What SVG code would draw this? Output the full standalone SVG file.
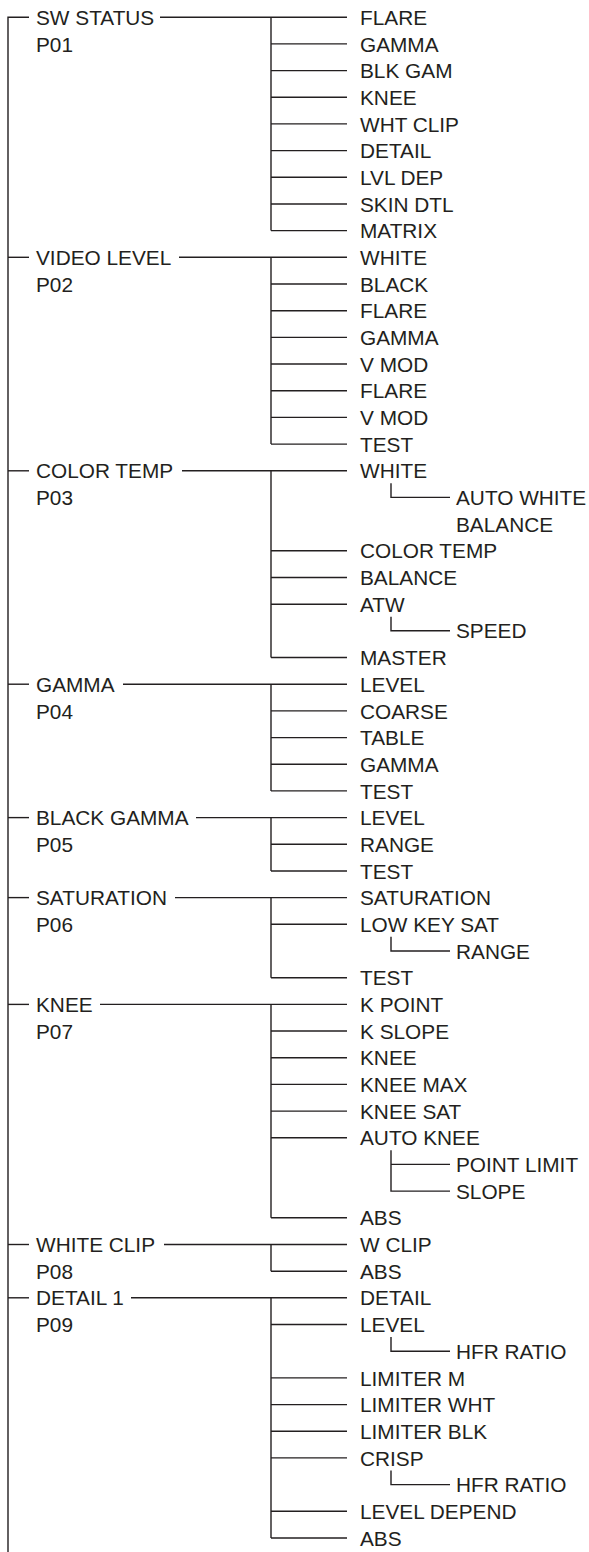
<svg xmlns="http://www.w3.org/2000/svg" width="589" height="1552" viewBox="0 0 589 1552">
<style>
.t{font-family:"Liberation Sans",Arial,Helvetica,sans-serif;font-size:20.8px;fill:#231f20}
.c line,.c path{stroke:#231f20;stroke-width:1.4;fill:none}
</style>
<rect width="589" height="1552" fill="#ffffff"/>
<g id="connectors" class="c">
<path d="M29 17.2H8V1552"/>
<!-- P01 -->
<line x1="160" y1="17.2" x2="347" y2="17.2"/>
<line x1="271" y1="17.2" x2="271" y2="230.6"/>
<line x1="271" y1="43.9" x2="347" y2="43.9"/>
<line x1="271" y1="70.6" x2="347" y2="70.6"/>
<line x1="271" y1="97.2" x2="347" y2="97.2"/>
<line x1="271" y1="123.9" x2="347" y2="123.9"/>
<line x1="271" y1="150.6" x2="347" y2="150.6"/>
<line x1="271" y1="177.3" x2="347" y2="177.3"/>
<line x1="271" y1="204" x2="347" y2="204"/>
<path d="M271 230.6H347"/>
<!-- P02 -->
<line x1="8" y1="257.3" x2="29" y2="257.3"/>
<line x1="179" y1="257.3" x2="347" y2="257.3"/>
<line x1="271" y1="257.3" x2="271" y2="444.1"/>
<line x1="271" y1="284" x2="347" y2="284"/>
<line x1="271" y1="310.7" x2="347" y2="310.7"/>
<line x1="271" y1="337.4" x2="347" y2="337.4"/>
<line x1="271" y1="364" x2="347" y2="364"/>
<line x1="271" y1="390.7" x2="347" y2="390.7"/>
<line x1="271" y1="417.4" x2="347" y2="417.4"/>
<line x1="271" y1="444.1" x2="347" y2="444.1"/>
<!-- P03 -->
<line x1="8" y1="470.8" x2="29" y2="470.8"/>
<line x1="182" y1="470.8" x2="347" y2="470.8"/>
<line x1="271" y1="470.8" x2="271" y2="657.5"/>
<path d="M391 483.3V497.4H450"/>
<line x1="271" y1="550.8" x2="347" y2="550.8"/>
<line x1="271" y1="577.5" x2="347" y2="577.5"/>
<line x1="271" y1="604.2" x2="347" y2="604.2"/>
<path d="M391 616.7V630.8H450"/>
<line x1="271" y1="657.5" x2="347" y2="657.5"/>
<!-- P04 -->
<line x1="8" y1="684.2" x2="29" y2="684.2"/>
<line x1="123" y1="684.2" x2="347" y2="684.2"/>
<line x1="271" y1="684.2" x2="271" y2="790.9"/>
<line x1="271" y1="710.9" x2="347" y2="710.9"/>
<line x1="271" y1="737.6" x2="347" y2="737.6"/>
<line x1="271" y1="764.2" x2="347" y2="764.2"/>
<line x1="271" y1="790.9" x2="347" y2="790.9"/>
<!-- P05 -->
<line x1="8" y1="817.6" x2="29" y2="817.6"/>
<line x1="196" y1="817.6" x2="347" y2="817.6"/>
<line x1="271" y1="817.6" x2="271" y2="871"/>
<line x1="271" y1="844.3" x2="347" y2="844.3"/>
<line x1="271" y1="871" x2="347" y2="871"/>
<!-- P06 -->
<line x1="8" y1="897.6" x2="29" y2="897.6"/>
<line x1="175" y1="897.6" x2="347" y2="897.6"/>
<line x1="271" y1="897.6" x2="271" y2="977.7"/>
<line x1="271" y1="924.3" x2="347" y2="924.3"/>
<path d="M391 936.8V951H450"/>
<line x1="271" y1="977.7" x2="347" y2="977.7"/>
<!-- P07 -->
<line x1="8" y1="1004.4" x2="29" y2="1004.4"/>
<line x1="100" y1="1004.4" x2="347" y2="1004.4"/>
<line x1="271" y1="1004.4" x2="271" y2="1217.8"/>
<line x1="271" y1="1031" x2="347" y2="1031"/>
<line x1="271" y1="1057.7" x2="347" y2="1057.7"/>
<line x1="271" y1="1084.4" x2="347" y2="1084.4"/>
<line x1="271" y1="1111.1" x2="347" y2="1111.1"/>
<line x1="271" y1="1137.8" x2="347" y2="1137.8"/>
<path d="M391 1150.3V1191.1H450"/>
<line x1="391" y1="1164.4" x2="450" y2="1164.4"/>
<line x1="271" y1="1217.8" x2="347" y2="1217.8"/>
<!-- P08 -->
<line x1="8" y1="1244.5" x2="29" y2="1244.5"/>
<line x1="164" y1="1244.5" x2="347" y2="1244.5"/>
<line x1="271" y1="1244.5" x2="271" y2="1271.2"/>
<line x1="271" y1="1271.2" x2="347" y2="1271.2"/>
<!-- P09 -->
<line x1="8" y1="1297.8" x2="29" y2="1297.8"/>
<line x1="131" y1="1297.8" x2="347" y2="1297.8"/>
<line x1="271" y1="1297.8" x2="271" y2="1538"/>
<line x1="271" y1="1324.5" x2="347" y2="1324.5"/>
<path d="M391 1337V1351.2H450"/>
<line x1="271" y1="1377.9" x2="347" y2="1377.9"/>
<line x1="271" y1="1404.6" x2="347" y2="1404.6"/>
<line x1="271" y1="1431.2" x2="347" y2="1431.2"/>
<line x1="271" y1="1457.9" x2="347" y2="1457.9"/>
<path d="M391 1470.4V1484.6H450"/>
<line x1="271" y1="1511.3" x2="347" y2="1511.3"/>
<line x1="271" y1="1538" x2="347" y2="1538"/>
</g>
<g id="p01" class="t">
<text x="36" y="24.8">SW STATUS</text>
<text x="36" y="51.5">P01</text>
</g>
<g id="p01-items" class="t">
<g id="p01-flare"><text x="360" y="24.8">FLARE</text></g>
<g id="p01-gamma"><text x="360" y="51.5">GAMMA</text></g>
<g id="p01-blkgam"><text x="360" y="78.2">BLK GAM</text></g>
<g id="p01-knee"><text x="360" y="104.8">KNEE</text></g>
<g id="p01-whtclip"><text x="360" y="131.5">WHT CLIP</text></g>
<g id="p01-detail"><text x="360" y="158.2">DETAIL</text></g>
<g id="p01-lvldep"><text x="360" y="184.9">LVL DEP</text></g>
<g id="p01-skindtl"><text x="360" y="211.6">SKIN DTL</text></g>
<g id="p01-matrix"><text x="360" y="238.2">MATRIX</text></g>
</g>
<g id="p02" class="t">
<text x="36" y="264.9">VIDEO LEVEL</text>
<text x="36" y="291.6">P02</text>
</g>
<g id="p02-items" class="t">
<g id="p02-white"><text x="360" y="264.9">WHITE</text></g>
<g id="p02-black"><text x="360" y="291.6">BLACK</text></g>
<g id="p02-flare"><text x="360" y="318.3">FLARE</text></g>
<g id="p02-gamma"><text x="360" y="345">GAMMA</text></g>
<g id="p02-vmod"><text x="360" y="371.6">V MOD</text></g>
<g id="p02-flare2"><text x="360" y="398.3">FLARE</text></g>
<g id="p02-vmod2"><text x="360" y="425">V MOD</text></g>
<g id="p02-test"><text x="360" y="451.7">TEST</text></g>
</g>
<g id="p03" class="t">
<text x="36" y="478.4">COLOR TEMP</text>
<text x="36" y="505">P03</text>
</g>
<g id="p03-items" class="t">
<g id="p03-white"><text x="360" y="478.4">WHITE</text></g>
<g id="p03-awb"><text x="456" y="505">AUTO WHITE</text><text x="456" y="531.7">BALANCE</text></g>
<g id="p03-colortemp"><text x="360" y="558.4">COLOR TEMP</text></g>
<g id="p03-balance"><text x="360" y="585.1">BALANCE</text></g>
<g id="p03-atw"><text x="360" y="611.8">ATW</text></g>
<g id="p03-speed"><text x="456" y="638.4">SPEED</text></g>
<g id="p03-master"><text x="360" y="665.1">MASTER</text></g>
</g>
<g id="p04" class="t">
<text x="36" y="691.8">GAMMA</text>
<text x="36" y="718.5">P04</text>
</g>
<g id="p04-items" class="t">
<g id="p04-level"><text x="360" y="691.8">LEVEL</text></g>
<g id="p04-coarse"><text x="360" y="718.5">COARSE</text></g>
<g id="p04-table"><text x="360" y="745.2">TABLE</text></g>
<g id="p04-gamma"><text x="360" y="771.8">GAMMA</text></g>
<g id="p04-test"><text x="360" y="798.5">TEST</text></g>
</g>
<g id="p05" class="t">
<text x="36" y="825.2">BLACK GAMMA</text>
<text x="36" y="851.9">P05</text>
</g>
<g id="p05-items" class="t">
<g id="p05-level"><text x="360" y="825.2">LEVEL</text></g>
<g id="p05-range"><text x="360" y="851.9">RANGE</text></g>
<g id="p05-test"><text x="360" y="878.6">TEST</text></g>
</g>
<g id="p06" class="t">
<text x="36" y="905.2">SATURATION</text>
<text x="36" y="931.9">P06</text>
</g>
<g id="p06-items" class="t">
<g id="p06-saturation"><text x="360" y="905.2">SATURATION</text></g>
<g id="p06-lowkeysat"><text x="360" y="931.9">LOW KEY SAT</text></g>
<g id="p06-range"><text x="456" y="958.6">RANGE</text></g>
<g id="p06-test"><text x="360" y="985.3">TEST</text></g>
</g>
<g id="p07" class="t">
<text x="36" y="1012">KNEE</text>
<text x="36" y="1038.6">P07</text>
</g>
<g id="p07-items" class="t">
<g id="p07-kpoint"><text x="360" y="1012">K POINT</text></g>
<g id="p07-kslope"><text x="360" y="1038.6">K SLOPE</text></g>
<g id="p07-knee"><text x="360" y="1065.3">KNEE</text></g>
<g id="p07-kneemax"><text x="360" y="1092">KNEE MAX</text></g>
<g id="p07-kneesat"><text x="360" y="1118.7">KNEE SAT</text></g>
<g id="p07-autoknee"><text x="360" y="1145.4">AUTO KNEE</text></g>
<g id="p07-pointlimit"><text x="456" y="1172">POINT LIMIT</text></g>
<g id="p07-slope"><text x="456" y="1198.7">SLOPE</text></g>
<g id="p07-abs"><text x="360" y="1225.4">ABS</text></g>
</g>
<g id="p08" class="t">
<text x="36" y="1252.1">WHITE CLIP</text>
<text x="36" y="1278.8">P08</text>
</g>
<g id="p08-items" class="t">
<g id="p08-wclip"><text x="360" y="1252.1">W CLIP</text></g>
<g id="p08-abs"><text x="360" y="1278.8">ABS</text></g>
</g>
<g id="p09" class="t">
<text x="36" y="1305.4">DETAIL 1</text>
<text x="36" y="1332.1">P09</text>
</g>
<g id="p09-items" class="t">
<g id="p09-detail"><text x="360" y="1305.4">DETAIL</text></g>
<g id="p09-level"><text x="360" y="1332.1">LEVEL</text></g>
<g id="p09-hfr1"><text x="456" y="1358.8">HFR RATIO</text></g>
<g id="p09-limiterm"><text x="360" y="1385.5">LIMITER M</text></g>
<g id="p09-limiterwht"><text x="360" y="1412.2">LIMITER WHT</text></g>
<g id="p09-limiterblk"><text x="360" y="1438.8">LIMITER BLK</text></g>
<g id="p09-crisp"><text x="360" y="1465.5">CRISP</text></g>
<g id="p09-hfr2"><text x="456" y="1492.2">HFR RATIO</text></g>
<g id="p09-leveldepend"><text x="360" y="1518.9">LEVEL DEPEND</text></g>
<g id="p09-abs"><text x="360" y="1545.6">ABS</text></g>
</g>
</svg>
